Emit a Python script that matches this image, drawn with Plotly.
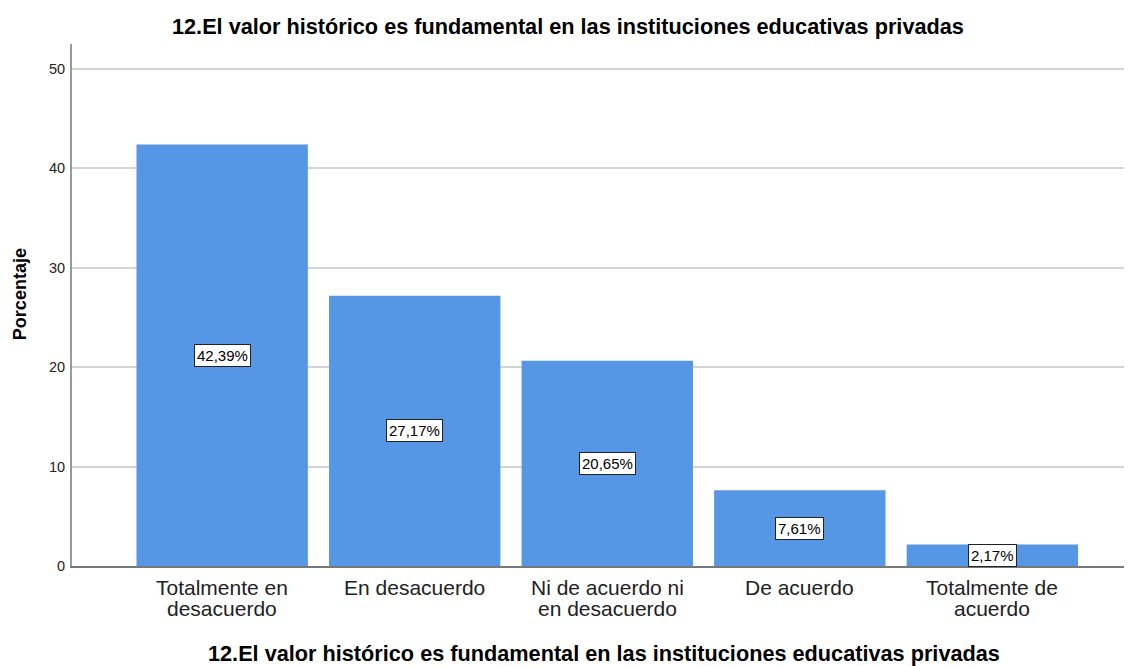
import plotly.graph_objects as go

categories = ["Totalmente en desacuerdo", "En desacuerdo", "Ni de acuerdo ni en desacuerdo",
              "De acuerdo", "Totalmente de acuerdo"]
tick_lines = [["Totalmente en", "desacuerdo"], ["En desacuerdo"], ["Ni de acuerdo ni", "en desacuerdo"],
              ["De acuerdo"], ["Totalmente de", "acuerdo"]]
values = [42.39, 27.17, 20.65, 7.61, 2.17]
labels = ["42,39%", "27,17%", "20,65%", "7,61%", "2,17%"]
y_ticks = [0, 10, 20, 30, 40, 50]
title_text = "12.El valor histórico es fundamental en las instituciones educativas privadas"
y_title = "Porcentaje"

FONT = "Arial, Liberation Sans"
fig = go.Figure()
fig.add_trace(go.Bar(
    x=list(range(len(categories))), y=values,
    marker=dict(color="#5596E5", line=dict(width=0)),
    width=0.89, hoverinfo="skip",
))
for i, (v, lab) in enumerate(zip(values, labels)):
    fig.add_annotation(x=i, y=v / 2, text=lab, showarrow=False,
                       font=dict(family=FONT, size=15, color="black"),
                       bgcolor="white", bordercolor="#222", borderwidth=1, borderpad=2)

# category labels (two tight lines)
line_y = [-0.042, -0.082]
for i, lines in enumerate(tick_lines):
    for j, t in enumerate(lines):
        fig.add_annotation(x=i, xref="x", y=line_y[j], yref="paper", text=t, showarrow=False,
                           xanchor="center", yanchor="middle",
                           font=dict(family=FONT, size=21, color="#222"))

# titles
fig.add_annotation(x=0.468, xref="paper", y=1.0326, yref="paper", text="<b>" + title_text + "</b>",
                   showarrow=False, xanchor="center", yanchor="middle",
                   font=dict(family=FONT, size=21.7, color="black"))
fig.add_annotation(x=0.502, xref="paper", y=-0.168, yref="paper", text="<b>" + title_text + "</b>",
                   showarrow=False, xanchor="center", yanchor="middle",
                   font=dict(family=FONT, size=21.7, color="black"))
fig.add_annotation(x=-0.0495, xref="paper", y=0.52, yref="paper", text="<b>" + y_title + "</b>",
                   showarrow=False, xanchor="center", yanchor="middle", textangle=-90,
                   font=dict(family=FONT, size=18, color="black"))

# page body has an 8px margin, so the figure is sized to fit the window exactly
fig.update_layout(
    width=1124, height=658,
    margin=dict(l=64, r=1, t=36, b=100),
    plot_bgcolor="white", paper_bgcolor="white",
    showlegend=False,
    font=dict(family=FONT, color="#222"),
)
fig.update_xaxes(
    range=[-0.78, 4.72], showgrid=False, showline=True, linecolor="#777", linewidth=1.5,
    ticks="", showticklabels=False, automargin=False,
)
fig.update_yaxes(
    range=[0, 52.5], tickvals=y_ticks, showgrid=True, gridcolor="#D4D4D4", gridwidth=2,
    showline=True, linecolor="#999", linewidth=2, ticks="", tickfont=dict(size=14.5, color="#222"),
    ticklabelstandoff=2, zeroline=False, automargin=False,
)
fig.write_html("out.html")
